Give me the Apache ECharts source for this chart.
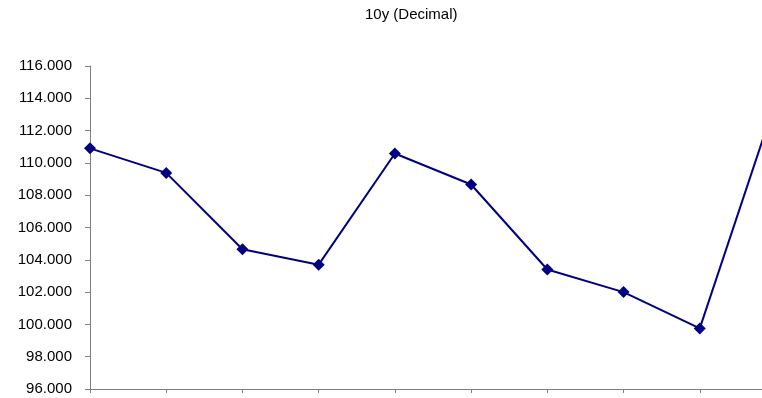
<!DOCTYPE html>
<html>
<head>
<meta charset="utf-8">
<script src="https://cdn.jsdelivr.net/npm/echarts@6/dist/echarts.min.js"></script>
<style>
  html, body { margin: 0; padding: 0; background: #ffffff; overflow: hidden; }
  /* The plot runs past the right edge of the window; the last point is cut off */
  #chart { width: 776px; height: 398px; }
</style>
</head>
<body>
<div id="chart"></div>
<script>
// Ten consecutive observations of the 10y decimal price series
const categories = ['1', '2', '3', '4', '5', '6', '7', '8', '9', '10'];
const prices = [110.90, 109.38, 104.65, 103.70, 110.58, 108.66, 103.40, 102.00, 99.75, 113.90];

// Y axis tick range
const yMin = 96;
const yMax = 116;
const yStep = 2;

const chart = echarts.init(document.getElementById('chart'), null, { renderer: 'canvas' });

chart.setOption({
  backgroundColor: '#ffffff',
  animation: false,
  title: {
    text: '10y (Decimal)',
    left: 365,
    top: 7,
    padding: 0,
    textStyle: {
      fontFamily: 'Liberation Sans, Arial, sans-serif',
      fontSize: 15,
      fontWeight: 'normal',
      color: '#000000'
    }
  },
  grid: {
    left: 90,
    right: 0,
    top: 66,
    bottom: 9,
    containLabel: false
  },
  xAxis: {
    type: 'category',
    data: categories,
    boundaryGap: false,
    axisLine: { show: true, lineStyle: { color: '#808080', width: 1 } },
    axisTick: { show: true, length: 4, inside: false, lineStyle: { color: '#808080' } },
    axisLabel: { show: false },
    splitLine: { show: false }
  },
  yAxis: {
    type: 'value',
    min: yMin,
    max: yMax,
    interval: yStep,
    axisLine: { show: true, lineStyle: { color: '#808080', width: 1 } },
    axisTick: { show: true, length: 5, lineStyle: { color: '#808080' } },
    axisLabel: {
      margin: 18,
      color: '#000000',
      fontFamily: 'Liberation Sans, Arial, sans-serif',
      fontSize: 15,
      formatter: v => v.toFixed(3)
    },
    splitLine: { show: false }
  },
  series: [{
    type: 'line',
    data: prices,
    symbol: 'diamond',
    symbolSize: 12,
    showAllSymbol: true,
    clip: false,
    lineStyle: { color: '#000080', width: 2 },
    itemStyle: { color: '#000080', borderWidth: 0 }
  }]
});
</script>
</body>
</html>
